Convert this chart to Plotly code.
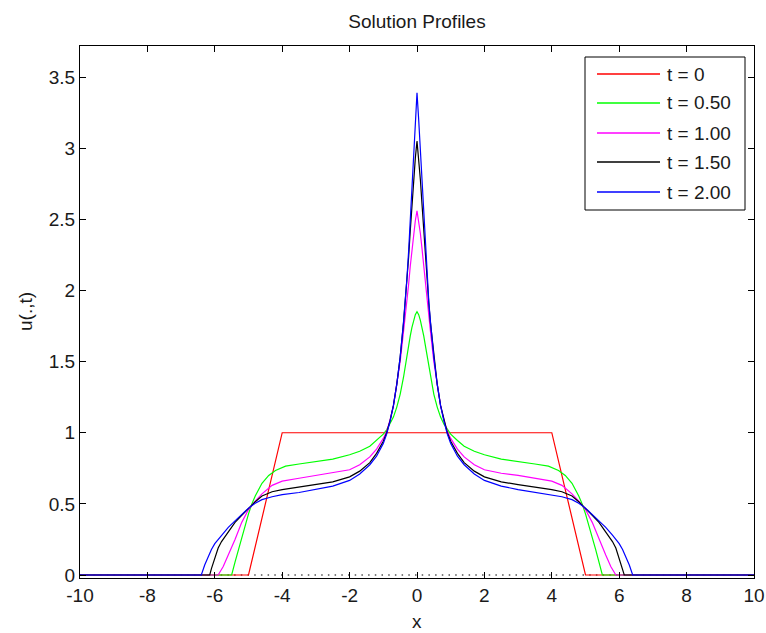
import plotly.graph_objects as go

# ---- profile data (u is even in x, so only x >= 0 is listed) ----
t_labels = ["t = 0", "t = 0.50", "t = 1.00", "t = 1.50", "t = 2.00"]
colors = ["#ff0000", "#00ff00", "#ff00ff", "#000000", "#0000ff"]

# initial condition: trapezoid
x_t0 = [0, 4, 5, 10]
u_t0 = [1, 1, 0, 0]

x_t05 = [0, 0.05, 0.1, 0.15, 0.2, 0.25, 0.3, 0.35, 0.4, 0.5, 0.6, 0.7, 0.8, 0.9,
         1.0, 1.2, 1.4, 1.7, 2.0, 2.5, 3.0, 3.5, 3.9, 4.2, 4.4, 4.6, 4.8, 4.9,
         5.0, 5.1, 5.2, 5.3, 5.4, 5.5, 10]
u_t05 = [1.85, 1.83, 1.79, 1.74, 1.68, 1.61, 1.54, 1.47, 1.39, 1.27, 1.18, 1.11,
         1.06, 1.02, 0.99, 0.945, 0.905, 0.87, 0.845, 0.815, 0.795, 0.78, 0.765,
         0.735, 0.70, 0.645, 0.555, 0.50, 0.43, 0.35, 0.27, 0.18, 0.09, 0.0, 0.0]

x_t10 = [0, 0.05, 0.1, 0.15, 0.2, 0.25, 0.3, 0.35, 0.4, 0.5, 0.6, 0.7, 0.8, 0.9,
         1.0, 1.2, 1.4, 1.7, 2.0, 2.5, 3.0, 3.5, 4.0, 4.3, 4.6, 4.8, 5.0, 5.2,
         5.4, 5.6, 5.75, 5.9, 10]
u_t10 = [2.56, 2.49, 2.40, 2.29, 2.17, 2.04, 1.92, 1.81, 1.71, 1.50, 1.33, 1.19,
         1.09, 1.01, 0.96, 0.885, 0.83, 0.775, 0.74, 0.715, 0.70, 0.68, 0.66,
         0.63, 0.57, 0.52, 0.46, 0.37, 0.25, 0.14, 0.06, 0.0, 0.0]

x_t15 = [0, 0.05, 0.1, 0.15, 0.2, 0.25, 0.3, 0.35, 0.4, 0.5, 0.6, 0.7, 0.8, 0.9,
         1.0, 1.2, 1.4, 1.7, 2.0, 2.5, 3.0, 3.5, 4.0, 4.3, 4.6, 4.8, 5.0, 5.2,
         5.4, 5.6, 5.8, 5.9, 6.0, 6.1, 6.15, 10]
u_t15 = [3.05, 2.93, 2.78, 2.60, 2.42, 2.23, 2.06, 1.91, 1.77, 1.53, 1.34, 1.19,
         1.085, 1.0, 0.94, 0.855, 0.79, 0.73, 0.69, 0.655, 0.635, 0.62, 0.60,
         0.585, 0.555, 0.515, 0.47, 0.42, 0.37, 0.305, 0.235, 0.19, 0.12, 0.045,
         0.0, 0.0]

x_t20 = [0, 0.05, 0.1, 0.15, 0.2, 0.25, 0.3, 0.35, 0.4, 0.5, 0.6, 0.7, 0.8, 0.9,
         1.0, 1.2, 1.4, 1.7, 2.0, 2.5, 3.0, 3.5, 4.0, 4.3, 4.6, 4.8, 5.0, 5.2,
         5.4, 5.6, 5.8, 6.0, 6.1, 6.2, 6.3, 6.4, 10]
u_t20 = [3.39, 3.20, 2.98, 2.75, 2.50, 2.27, 2.08, 1.92, 1.78, 1.53, 1.34, 1.19,
         1.08, 0.99, 0.925, 0.835, 0.775, 0.71, 0.665, 0.625, 0.60, 0.58, 0.565,
         0.55, 0.53, 0.505, 0.47, 0.425, 0.38, 0.335, 0.28, 0.22, 0.18, 0.13,
         0.07, 0.0, 0.0]

profiles = [(x_t0, u_t0), (x_t05, u_t05), (x_t10, u_t10), (x_t15, u_t15), (x_t20, u_t20)]

x_ticks = list(range(-10, 11, 2))
y_ticks = [0, 0.5, 1, 1.5, 2, 2.5, 3, 3.5]


def full_profile(xh, uh):
    """Reflect the x >= 0 half of an even profile onto x < 0."""
    xs = [-v for v in reversed(xh[1:])] + list(xh)
    us = list(reversed(uh[1:])) + list(uh)
    return xs, us


FONT = "Liberation Sans, Arial, Helvetica, sans-serif"
TEXT = "#1a1a1a"
W, H = 766, 633
L, R, T, B = 80, 12, 46, 55

fig = go.Figure()

# dotted zero reference line
fig.add_trace(go.Scatter(x=[-10, 10], y=[0, 0], mode="lines",
                         line=dict(color="#000000", width=1.2, dash="1.5px,5.2px"),
                         hoverinfo="skip", showlegend=False))

for (xh, uh), name, c in zip(profiles, t_labels, colors):
    xs, us = full_profile(xh, uh)
    fig.add_trace(go.Scatter(x=xs, y=us, mode="lines", name=name,
                             line=dict(color=c, width=1.2), showlegend=False))


# boxed legend drawn in paper space (pixel -> paper helpers)
def px_x(p):
    return (p - L) / (W - L - R)


def px_y(p):
    return (H - B - p) / (H - T - B)


shapes = [dict(type="rect", xref="paper", yref="paper",
               x0=px_x(585), x1=px_x(745), y0=px_y(210), y1=px_y(57),
               line=dict(color="#000000", width=1), fillcolor="#ffffff", layer="above")]
annotations = []
row_y = [74, 103, 133, 162, 192]
for name, c, ry in zip(t_labels, colors, row_y):
    shapes.append(dict(type="line", xref="paper", yref="paper",
                       x0=px_x(597), x1=px_x(660), y0=px_y(ry), y1=px_y(ry),
                       line=dict(color=c, width=1.3), layer="above"))
    annotations.append(dict(xref="paper", yref="paper", x=px_x(665), y=px_y(ry),
                            text=name, showarrow=False, xanchor="left", yanchor="middle",
                            font=dict(family=FONT, size=19, color=TEXT)))

# axis titles placed as annotations so the plot box stays fixed
annotations.append(dict(xref="paper", yref="paper", x=0.5, y=px_y(621),
                        text="x", showarrow=False, xanchor="center", yanchor="middle",
                        font=dict(family=FONT, size=19, color=TEXT)))
annotations.append(dict(xref="paper", yref="paper", x=px_x(25), y=0.5,
                        text="u(.,t)", showarrow=False, textangle=-90,
                        xanchor="center", yanchor="middle",
                        font=dict(family=FONT, size=19, color=TEXT)))

axis_common = dict(showline=True, linecolor="#000000", linewidth=1, mirror="ticks",
                   ticks="inside", ticklen=6, tickcolor="#000000", tickwidth=1,
                   showgrid=False, zeroline=False, automargin=False,
                   tickfont=dict(family=FONT, size=19, color=TEXT))

fig.update_layout(
    width=W, height=H,
    margin=dict(l=L, r=R, t=T, b=B, autoexpand=False),
    paper_bgcolor="#ffffff", plot_bgcolor="#ffffff",
    title=dict(text="Solution Profiles", x=(L + (W - L - R) / 2) / W, xanchor="center",
               y=1 - 21 / H, yanchor="middle",
               font=dict(family=FONT, size=19, color=TEXT)),
    xaxis=dict(range=[-10, 10], tickvals=x_ticks, ticktext=[str(v) for v in x_ticks],
               **axis_common),
    yaxis=dict(range=[-0.021, 3.718], tickvals=y_ticks,
               ticktext=["0", "0.5", "1", "1.5", "2", "2.5", "3", "3.5"],
               **axis_common),
    shapes=shapes,
    annotations=annotations,
    showlegend=False,
)

fig.write_html("out.html")
